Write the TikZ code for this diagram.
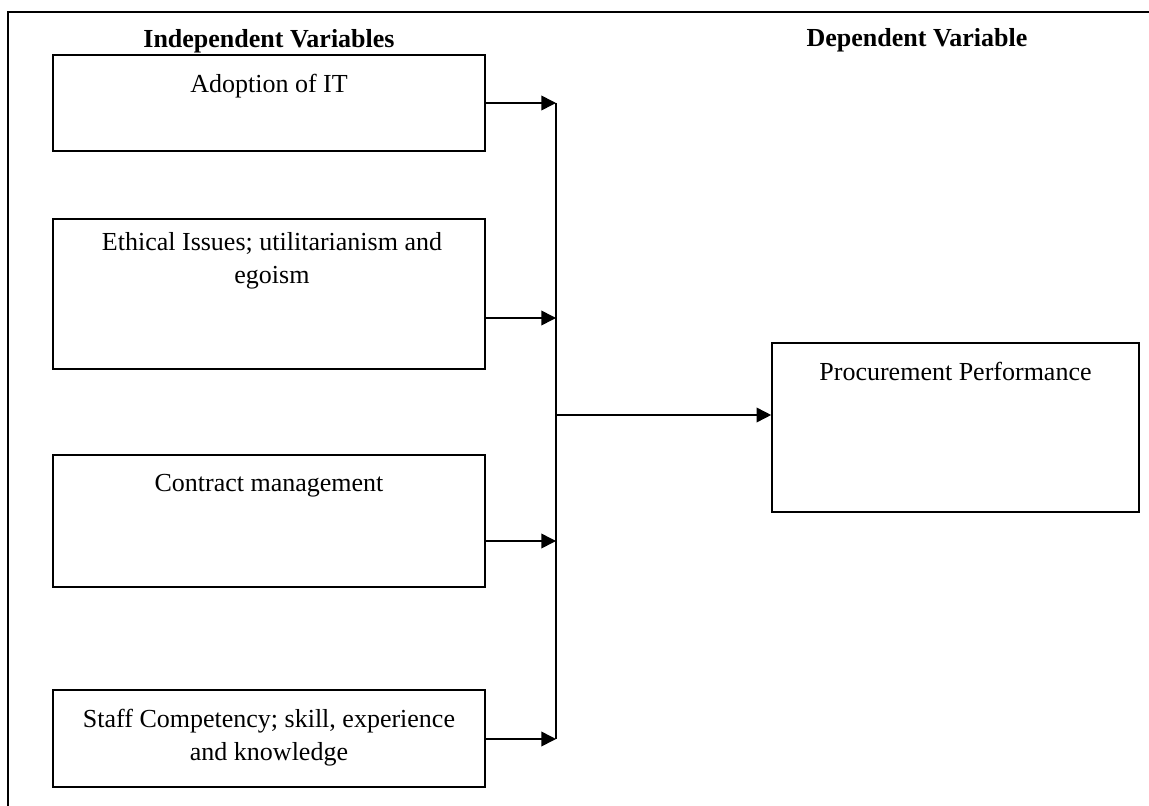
\documentclass[tikz,border=0pt]{standalone}
\usepackage{fontspec}
\setmainfont{Liberation Serif}
\usetikzlibrary{arrows.meta}
\begin{document}
\begin{tikzpicture}[x=0.75pt,y=-0.75pt,line width=1.2pt,
  box/.style={draw,line width=1.2pt,inner sep=0pt,minimum width=324pt},
  lbl/.style={anchor=base,inner sep=0pt,font=\fontsize{19.5}{24}\selectfont},
  hdr/.style={lbl,font=\fontsize{19.5}{24}\selectfont\bfseries},
  conn/.style={-{Triangle[length=11pt,width=11pt]},line width=1.2pt}]
\useasboundingbox (0,0) rectangle (1149,806);
\draw (1149,12) -- (8,12) -- (8,806);
% headers
\node[hdr] (hind) at (269,48) {Independent Variables};
\node[hdr] (hdep) at (917,47) {Dependent Variable};
% boxes
\node[box,minimum height=72pt] (b1) at (269,103) {};
\node[box,minimum height=112.5pt] (b2) at (269,294) {};
\node[box,minimum height=99pt] (b3) at (269,521) {};
\node[box,minimum height=72.75pt] (b4) at (269,738.5) {};
\node[box,minimum width=275.25pt,minimum height=126.75pt] (proc) at (955.5,427.5) {};
% labels
\node[lbl] (t1) at (269,93) {Adoption of IT};
\node[lbl] (t2a) at (272,250) {Ethical Issues; utilitarianism and};
\node[lbl] (t2b) at (272,283) {egoism};
\node[lbl] (t3) at (269,491) {Contract management};
\node[lbl] (t4a) at (269,727) {Staff Competency; skill, experience};
\node[lbl] (t4b) at (269,760) {and knowledge};
\node[lbl] (tp) at (955.5,380) {Procurement Performance};
% bus
\coordinate (bus1) at (556,103);
\coordinate (bus2) at (556,318);
\coordinate (bus3) at (556,541);
\coordinate (bus4) at (556,739);
\coordinate (busm) at (556,415);
\draw (bus1) -- (bus4);
\draw[conn] (b1.east |- bus1) -- (bus1);
\draw[conn] (b2.east |- bus2) -- (bus2);
\draw[conn] (b3.east |- bus3) -- (bus3);
\draw[conn] (b4.east |- bus4) -- (bus4);
\draw[conn] (busm) -- (proc.west |- busm);
\end{tikzpicture}
\end{document}
